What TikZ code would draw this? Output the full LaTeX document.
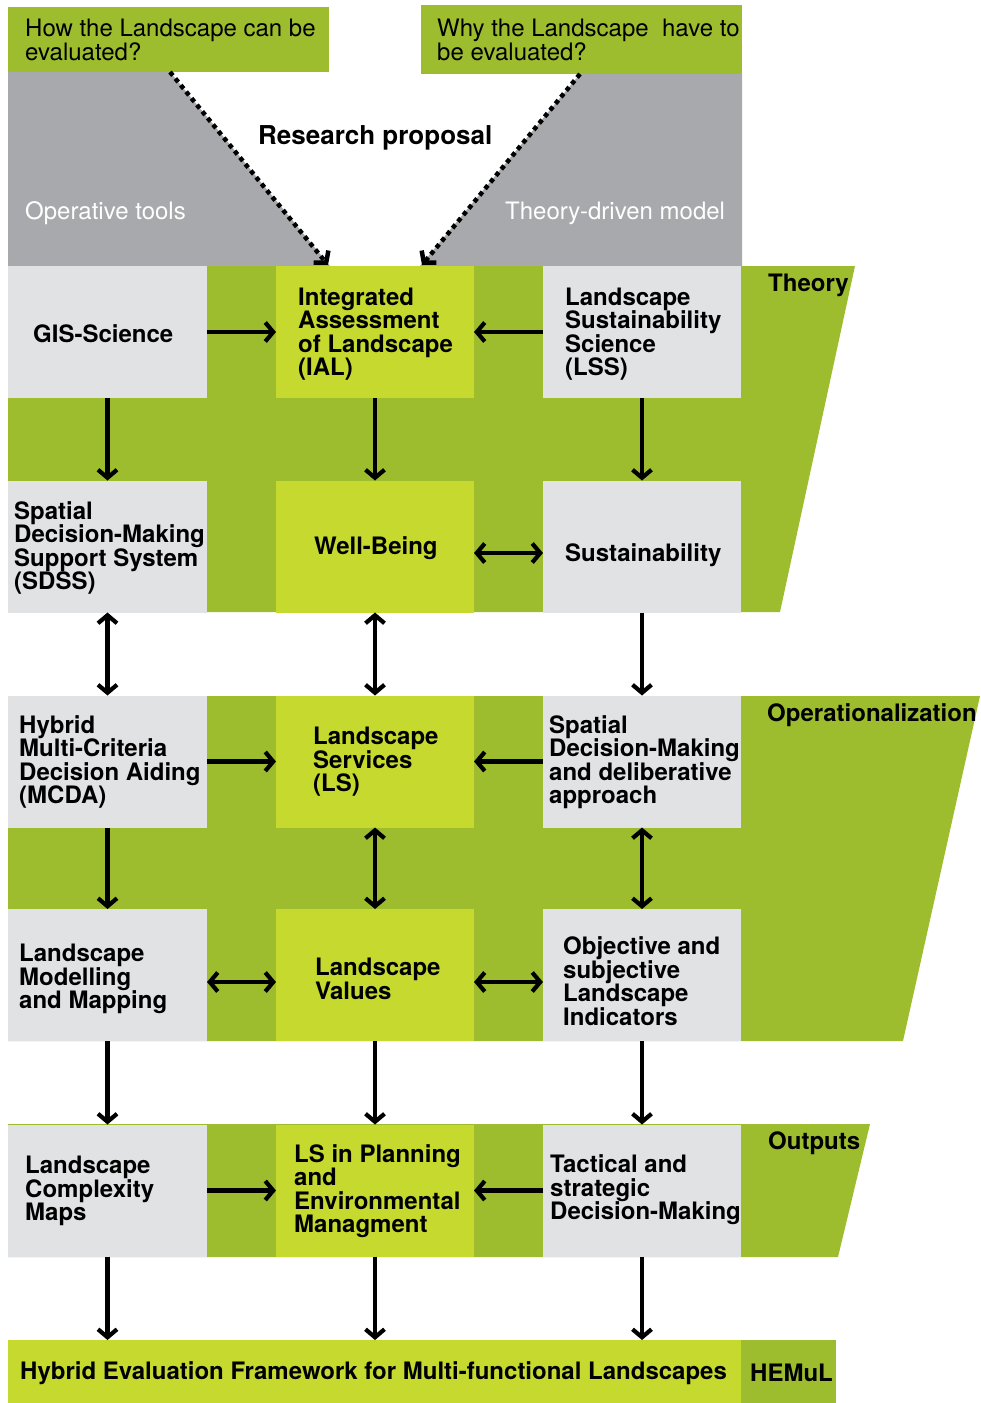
\documentclass[tikz,border=0pt]{standalone}
\usepackage{fontspec}
\setmainfont{TeX Gyre Heros}
\usetikzlibrary{arrows.meta,calc}
\definecolor{leaf}{HTML}{9DBD2E}
\definecolor{lime}{HTML}{C5D92E}
\definecolor{paper}{HTML}{E1E2E4}
\definecolor{stone}{HTML}{A8A9AC}
\begin{document}
\begin{tikzpicture}[x=1pt,y=-1pt,
  cell/.style={inner sep=0pt, outer sep=0pt, minimum width=199pt, minimum height=132pt},
  graycell/.style={cell, fill=paper},
  limecell/.style={cell, fill=lime},
  txt/.style={anchor=west, align=left, inner sep=0pt, font=\bfseries\fontsize{24}{23.5}\selectfont},
  lighttxt/.style={anchor=west, align=left, inner sep=0pt, font=\fontsize{24}{23}\selectfont},
  tip/.style={Straight Barb[length=8pt,width=19pt]},
  arr/.style={line width=4.2pt, -{Straight Barb[length=8pt,width=19pt]}},
  darr/.style={line width=4.2pt, {Straight Barb[length=8pt,width=19pt]}-{Straight Barb[length=8pt,width=19pt]}},
  dotarr/.style={line width=4.5pt, dash pattern=on 4.5pt off 4pt, -{Straight Barb[length=8pt,width=19pt]}}]
\useasboundingbox (0,0) rectangle (980,1403);

% question boxes
\node[fill=leaf, inner sep=0pt, outer sep=0pt, minimum width=321pt, minimum height=65pt, anchor=north west] (q1) at (8,7) {};
\node[fill=leaf, inner sep=0pt, outer sep=0pt, minimum width=321pt, minimum height=69pt, anchor=north west] (q2) at (421,5) {};
\node[lighttxt] (q1t) at (25,40) {How the Landscape can be\\evaluated?};
\node[lighttxt] (q2t) at (437,40) {Why the Landscape\ \ have to\\be evaluated?};

% grey wedges behind the research proposal
\fill[stone] (8,72) -- (170,72) -- (330,266) -- (8,266) -- cycle;
\fill[stone] (580,74) -- (742,74) -- (742,266) -- (420,266) -- cycle;
\node[lighttxt, text=white] (op) at (25,213) {Operative tools};
\node[lighttxt, text=white] (tdm) at (505,213) {Theory-driven model};
\node[txt, font=\bfseries\fontsize{26}{26}\selectfont] (rp) at (258,138) {Research proposal};

% phase bands
\fill[leaf] (8,266) -- (855,266) -- (780,612) -- (8,612) -- cycle;
\fill[leaf] (8,696) -- (980,696) -- (903,1041) -- (8,1041) -- cycle;
\fill[leaf] (8,1124) -- (870,1124) -- (838,1257) -- (8,1257) -- cycle;
\node[txt] (th) at (768,285) {Theory};
\node[txt] (opz) at (767,715) {Operationalization};
\node[txt] (out) at (768,1143) {Outputs};

% row 1
\node[graycell] (gis) at (107.5,332) {};
\node[limecell, minimum width=198pt] (ial) at (375,332) {};
\node[graycell, minimum width=198pt] (lss) at (642,332) {};
% row 2
\node[graycell] (sdss) at (107.5,546.5) {};
\node[limecell, minimum width=198pt] (wb) at (375,546.5) {};
\node[graycell, minimum width=198pt] (sus) at (642,546.5) {};
% row 3
\node[graycell] (mcda) at (107.5,761.5) {};
\node[limecell, minimum width=198pt] (ls) at (375,761.5) {};
\node[graycell, minimum width=198pt] (sdm) at (642,761.5) {};
% row 4
\node[graycell] (lmm) at (107.5,975) {};
\node[limecell, minimum width=198pt] (lv) at (375,975) {};
\node[graycell, minimum width=198pt] (oli) at (642,975) {};
% row 5
\node[graycell] (lcm) at (107.5,1190.5) {};
\node[limecell, minimum width=198pt] (lsp) at (375,1190.5) {};
\node[graycell, minimum width=198pt] (tdmk) at (642,1190.5) {};

% final framework bar
\node[fill=lime, inner sep=0pt, outer sep=0pt, minimum width=733pt, minimum height=63pt, anchor=north west] (bar) at (8,1340) {};
\node[fill=leaf, inner sep=0pt, outer sep=0pt, minimum width=95pt, minimum height=63pt, anchor=north west] (hem) at (741,1340) {};

% cell texts
\node[txt] (gist) at (33,334) {GIS-Science};
\node[txt] (ialt) at (298,334) {Integrated\\Assessment\\of Landscape\\(IAL)};
\node[txt] (lsst) at (565,334) {Landscape\\Sustainability\\Science\\(LSS)};
\node[txt] (sdsst) at (14,548) {Spatial\\Decision-Making\\Support System\\(SDSS)};
\node[txt] (wbt) at (314,548) {Well-Being};
\node[txt] (sust) at (565,555) {Sustainability};
\node[txt] (mcdat) at (19,762) {Hybrid\\Multi-Criteria\\Decision Aiding\\(MCDA)};
\node[txt] (lst) at (313,762) {Landscape\\Services\\(LS)};
\node[txt] (sdmt) at (549,762) {Spatial\\Decision-Making\\and deliberative\\approach};
\node[txt] (lmmt) at (19,979) {Landscape\\Modelling\\and Mapping};
\node[txt] (lvt) at (315,979) {Landscape\\Values};
\node[txt] (olit) at (563,981) {Objective and\\subjective\\Landscape\\Indicators};
\node[txt] (lcmt) at (25,1191) {Landscape\\Complexity\\Maps};
\node[txt] (lspt) at (294,1191) {LS in Planning\\and\\Environmental\\Managment};
\node[txt] (tdmkt) at (550,1190) {Tactical and\\strategic\\Decision-Making};
\node[txt] (bart) at (20,1373) {Hybrid Evaluation Framework for Multi-functional Landscapes};
\node[txt] (hemt) at (750,1373) {HEMuL};

% research questions feed the integrated assessment
\draw[dotarr] ($(q1.south west)+(162,0)$) -- ($(ial.north west)+(52,-1)$);
\draw[dotarr] ($(q2.south west)+(159,0)$) -- ($(ial.north west)+(146,-1)$);

% connectors
\draw[arr] (gis) -- (ial);
\draw[arr] (lss) -- (ial);
\draw[arr] (gis) -- (sdss);
\draw[arr] (ial) -- (wb);
\draw[arr] (lss) -- (sus);
\draw[darr] ([yshift=-6.5pt]wb.east) -- ([yshift=-6.5pt]sus.west);
\draw[darr] (sdss) -- (mcda);
\draw[darr] (wb) -- (ls);
\draw[arr] (sus) -- (sdm);
\draw[arr] (mcda) -- (ls);
\draw[arr] (sdm) -- (ls);
\draw[arr] (mcda) -- (lmm);
\draw[darr] (ls) -- (lv);
\draw[darr] (sdm) -- (oli);
\draw[darr] ([yshift=-7pt]lmm.east) -- ([yshift=-7pt]lv.west);
\draw[darr] ([yshift=-7pt]lv.east) -- ([yshift=-7pt]oli.west);
\draw[arr] (lmm) -- (lcm);
\draw[arr] (lv) -- (lsp);
\draw[arr] (oli) -- (tdmk);
\draw[arr] (lcm) -- (lsp);
\draw[arr] (tdmk) -- (lsp);
\draw[arr] (lcm) -- (lcm |- bar.north);
\draw[arr] (lsp) -- (lsp |- bar.north);
\draw[arr] (tdmk) -- (tdmk |- bar.north);
\end{tikzpicture}
\end{document}
